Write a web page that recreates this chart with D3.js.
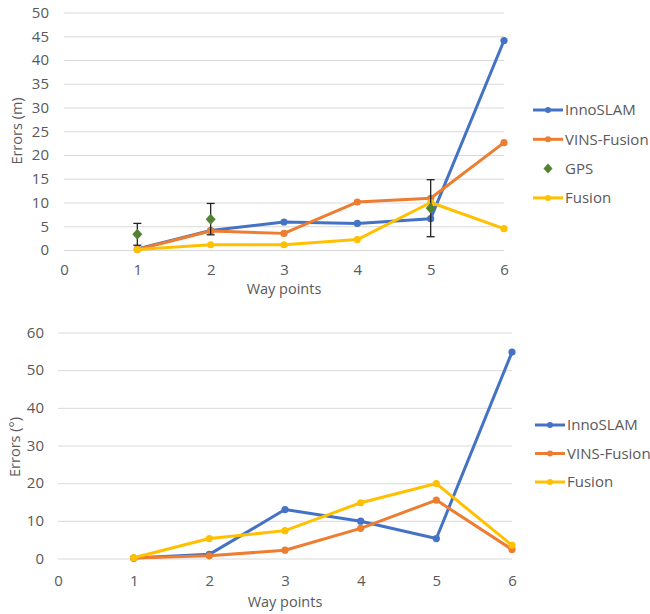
<!DOCTYPE html>
<html><head><meta charset="utf-8">
<script src="https://cdn.jsdelivr.net/npm/d3@7"></script>
<style>body{margin:0;background:#fff}svg text{font-family:"Open Sans",sans-serif;fill:#595959}</style>
</head><body><svg id="c" width="650" height="614"></svg>
<script>
const waypoints = [1, 2, 3, 4, 5, 6];
// Top chart: position errors (m)
const posInnoSLAM = [0.2, 4.1, 5.9, 5.6, 6.6, 44.1];
const posVINS = [0.1, 4.0, 3.5, 10.1, 10.9, 22.6];
const posFusion = [0.1, 1.1, 1.1, 2.2, 10.0, 4.5];
const gpsX = [1, 2, 5];
const gpsVal = [3.3, 6.5, 8.8];
const gpsErr = [2.3, 3.3, 6.0];
const posTicksY = [0, 5, 10, 15, 20, 25, 30, 35, 40, 45, 50];
// Bottom chart: orientation errors (°)
const oriInnoSLAM = [0.1, 1.1, 13.0, 9.9, 5.3, 54.8];
const oriVINS = [0.1, 0.7, 2.2, 8.0, 15.5, 2.4];
const oriFusion = [0.2, 5.3, 7.4, 14.8, 19.9, 3.5];
const oriTicksY = [0, 10, 20, 30, 40, 50, 60];
const xTicks = [0, 1, 2, 3, 4, 5, 6];

const colors = {InnoSLAM: "#4472C4", "VINS-Fusion": "#ED7D31", GPS: "#548235", Fusion: "#FFC000"};
const svg = d3.select("#c");
const diamond = (w, h) => `M0,${-h}L${w},0L0,${h}L${-w},0Z`;

function chart(cfg) {
  const x = d3.scaleLinear().domain([0, 6]).range(cfg.xr);
  const y = d3.scaleLinear().domain([0, cfg.ymax]).range(cfg.yr);
  const g = svg.append("g");
  g.append("g").attr("transform", `translate(${cfg.xr[0]},0)`)
    .call(d3.axisLeft(y).tickValues(cfg.yTicks).tickSize(-(cfg.xr[1] - cfg.xr[0])).tickFormat(""))
    .call(a => a.select(".domain").remove())
    .call(a => a.selectAll("line").attr("stroke", "#D9D9D9").attr("stroke-width", 1));
  g.append("g").attr("transform", `translate(${cfg.ylabX},0)`)
    .call(d3.axisLeft(y).tickValues(cfg.yTicks).tickSize(0).tickPadding(0).tickFormat(d3.format("d")))
    .call(a => a.select(".domain").remove())
    .call(a => a.selectAll("text").attr("font-size", 15).style("fill", "#595959"));
  g.append("g").attr("transform", `translate(0,${cfg.xlabY})`)
    .call(d3.axisBottom(x).tickValues(xTicks).tickSize(0).tickPadding(0).tickFormat(d3.format("d")))
    .call(a => a.select(".domain").remove())
    .call(a => a.selectAll("text").attr("font-size", 15).attr("dy", 0).style("fill", "#595959"));
  g.append("text").attr("x", (cfg.xr[0] + cfg.xr[1]) / 2).attr("y", cfg.xTitleY)
    .attr("text-anchor", "middle").attr("font-size", 14.5).text("Way points");
  g.append("text").attr("transform", `translate(${cfg.yTitleX},${cfg.yTitleY}) rotate(-90)`)
    .attr("text-anchor", "middle").attr("dy", "0.35em").attr("font-size", 14.5).text(cfg.yTitle);

  const line = d3.line().x((d, i) => x(waypoints[i])).y(d => y(d));
  const drawSeries = (vals, name) => {
    g.append("path").datum(vals).attr("d", line).attr("fill", "none")
      .attr("stroke", colors[name]).attr("stroke-width", 3).attr("stroke-linejoin", "round");
    g.selectAll(null).data(vals).enter().append("circle")
      .attr("cx", (d, i) => x(waypoints[i])).attr("cy", d => y(d)).attr("r", 3.6)
      .attr("fill", colors[name]);
  };
  cfg.series.forEach(s => { if (s.name !== "GPS") drawSeries(s.vals, s.name); });
  if (cfg.gps) {
    const eg = g.append("g");
    gpsX.forEach((xv, i) => {
      const cx = x(xv), t = y(gpsVal[i] + gpsErr[i]), b = y(gpsVal[i] - gpsErr[i]);
      eg.append("line").attr("x1", cx).attr("x2", cx).attr("y1", t).attr("y2", b).attr("stroke", "#222").attr("stroke-width", 1.3);
      [t, b].forEach(yy => eg.append("line").attr("x1", cx - 4).attr("x2", cx + 4).attr("y1", yy).attr("y2", yy).attr("stroke", "#222").attr("stroke-width", 1.3));
      eg.append("path").attr("d", diamond(5, 5.5)).attr("transform", `translate(${cx},${y(gpsVal[i])})`).attr("fill", colors.GPS);
    });
  }
  const lg = g.append("g");
  cfg.series.forEach((s, i) => {
    const yy = cfg.legY + i * cfg.legStep;
    if (s.name === "GPS") {
      lg.append("path").attr("d", diamond(4.5, 5)).attr("transform", `translate(${cfg.legX + 15},${yy})`).attr("fill", colors.GPS);
    } else {
      lg.append("line").attr("x1", cfg.legX).attr("x2", cfg.legX + 30).attr("y1", yy).attr("y2", yy).attr("stroke", colors[s.name]).attr("stroke-width", 3);
      lg.append("circle").attr("cx", cfg.legX + 15).attr("cy", yy).attr("r", 3).attr("fill", colors[s.name]);
    }
    lg.append("text").attr("x", cfg.legX + 32).attr("y", yy).attr("dy", "0.35em").attr("font-size", 15).text(s.name);
  });
}

chart({
  xr: [64, 504], yr: [250, 12.5], ymax: 50, yTicks: posTicksY,
  ylabX: 49, xlabY: 275, xTitleY: 294, yTitleX: 17, yTitleY: 131, yTitle: "Errors (m)",
  series: [{name: "InnoSLAM", vals: posInnoSLAM}, {name: "VINS-Fusion", vals: posVINS}, {name: "GPS"}, {name: "Fusion", vals: posFusion}],
  gps: true, legX: 533, legY: 110, legStep: 29.3
});
chart({
  xr: [58, 512], yr: [558.5, 332.5], ymax: 60, yTicks: oriTicksY,
  ylabX: 44, xlabY: 586, xTitleY: 607, yTitleX: 15, yTitleY: 447, yTitle: "Errors (°)",
  series: [{name: "InnoSLAM", vals: oriInnoSLAM}, {name: "VINS-Fusion", vals: oriVINS}, {name: "Fusion", vals: oriFusion}],
  gps: false, legX: 535, legY: 425, legStep: 28.5
});
</script></body></html>
